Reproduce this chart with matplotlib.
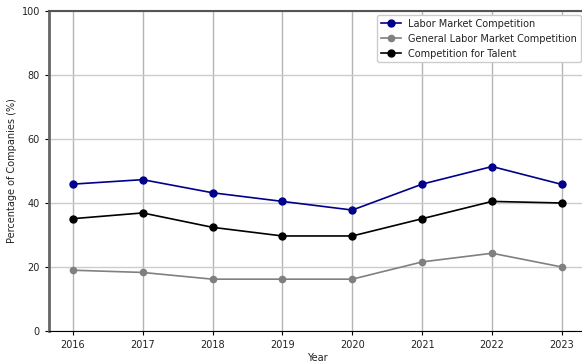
import matplotlib
matplotlib.use('Agg')
import matplotlib.pyplot as plt

years = [2016, 2017, 2018, 2019, 2020, 2021, 2022, 2023]
labor_market = [45.9, 47.3, 43.2, 40.5, 37.8, 45.9, 51.4, 45.8]
general_labor_market = [19.0, 18.3, 16.2, 16.2, 16.2, 21.6, 24.3, 20.0]
talent = [35.1, 36.9, 32.4, 29.7, 29.7, 35.1, 40.5, 40.0]

plt.rcParams['text.color'] = '#222222'
plt.rcParams['axes.labelcolor'] = '#222222'
plt.rcParams['xtick.labelcolor'] = '#222222'
plt.rcParams['ytick.labelcolor'] = '#222222'

fig = plt.figure(figsize=(5.82, 3.62), dpi=100)
ax = fig.add_axes([0.0842, 0.0856, 0.921, 0.884])

ax.plot(years, labor_market, marker='o', color='darkblue', markersize=5,
        linewidth=1.2, label='Labor Market Competition')
ax.plot(years, general_labor_market, marker='o', color='gray', markersize=4.5,
        linewidth=1.2, label='General Labor Market Competition')
ax.plot(years, talent, marker='o', color='black', markersize=5,
        linewidth=1.2, label='Competition for Talent')

ax.set_xlim(2015.66, 2023.33)
ax.set_ylim(0, 100)
ax.set_xticks(years)
ax.set_yticks([0, 20, 40, 60, 80, 100])
ax.tick_params(labelsize=7, length=3)
ax.set_xlabel('Year', fontsize=7, labelpad=2)
ax.set_ylabel('Percentage of Companies (%)', fontsize=7, labelpad=3)

# vertical grid a bit darker than horizontal, like the original
ax.xaxis.grid(True, color='#b4b4b4', linewidth=1)
ax.yaxis.grid(True, color='#cccccc', linewidth=1)
ax.set_axisbelow(True)
ax.spines['left'].set_color('#666666')
ax.spines['left'].set_linewidth(2)
ax.spines['top'].set_color('#555555')
ax.spines['top'].set_linewidth(1.5)
ax.spines['bottom'].set_linewidth(0.8)

ax.legend(loc='upper right', fontsize=7, framealpha=1, borderaxespad=0.4)

fig.savefig('out.png', dpi=100)
